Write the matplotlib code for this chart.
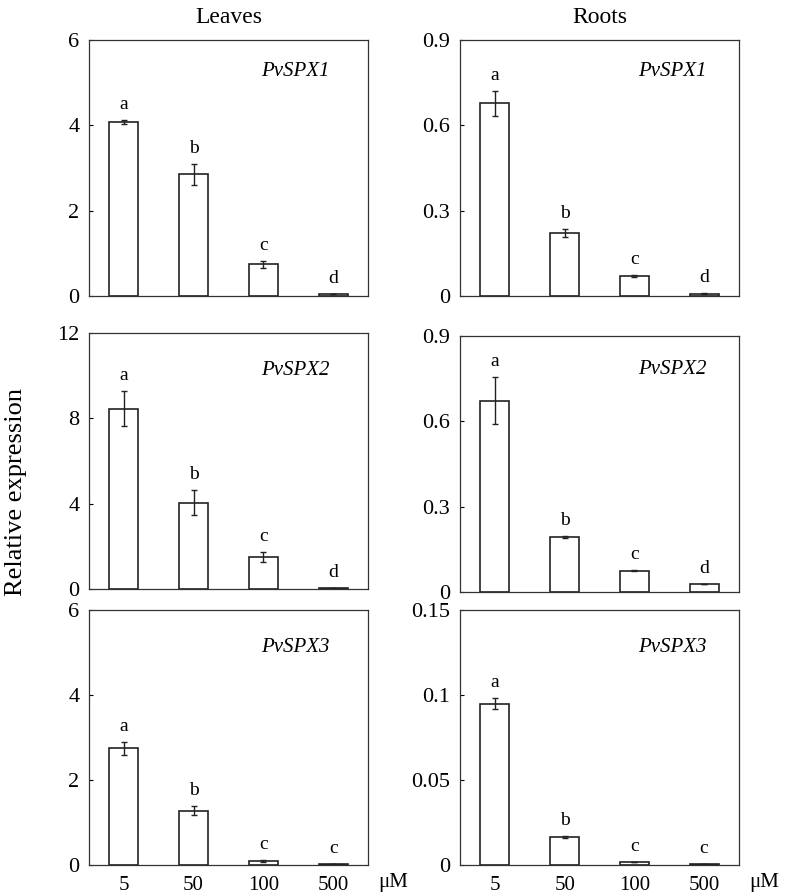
import matplotlib
matplotlib.use("Agg")
import matplotlib.pyplot as plt
import numpy as np

plt.rcParams["font.family"] = ["Liberation Serif", "DejaVu Serif"]

doses = ["5", "50", "100", "500"]
genes = ["PvSPX1", "PvSPX2", "PvSPX3"]
tissues = ["Leaves", "Roots"]

# mean values, rows = genes, for each tissue
leaves_mean = [
    [4.08, 2.85, 0.74, 0.05],
    [8.46, 4.05, 1.50, 0.06],
    [2.75, 1.28, 0.09, 0.02],
]
leaves_err = [
    [0.05, 0.24, 0.08, 0.0],
    [0.80, 0.60, 0.23, 0.0],
    [0.15, 0.10, 0.02, 0.0],
]
roots_mean = [
    [0.677, 0.220, 0.070, 0.008],
    [0.673, 0.194, 0.075, 0.028],
    [0.0948, 0.0166, 0.0018, 0.0004],
]
roots_err = [
    [0.043, 0.014, 0.003, 0.001],
    [0.083, 0.004, 0.002, 0.0],
    [0.0032, 0.0005, 0.0, 0.0],
]
letters = [
    [["a", "b", "c", "d"], ["a", "b", "c", "d"]],
    [["a", "b", "c", "d"], ["a", "b", "c", "d"]],
    [["a", "b", "c", "c"], ["a", "b", "c", "c"]],
]
leaves_ticks = [[0, 2, 4, 6], [0, 4, 8, 12], [0, 2, 4, 6]]
leaves_ticklabels = [["0", "2", "4", "6"], ["0", "4", "8", "12"], ["0", "2", "4", "6"]]
roots_ticks = [[0, 0.3, 0.6, 0.9], [0, 0.3, 0.6, 0.9], [0, 0.05, 0.1, 0.15]]
roots_ticklabels = [["0", "0.3", "0.6", "0.9"], ["0", "0.3", "0.6", "0.9"],
                    ["0", "0.05", "0.1", "0.15"]]

fig = plt.figure(figsize=(7.86, 8.94), dpi=100)

W, H = 786, 894
col_x = [89, 460]
# (top, bottom) in pixels for each row and column
rows_px = [
    [(40, 296), (40, 296)],
    [(333, 589), (336, 592)],
    [(610, 865), (610, 865)],
]
gene_x = [0.862, 0.885]
gene_y = [[0.875, 0.876], [0.854, 0.87], [0.854, 0.854]]

x = np.arange(len(doses))
for r in range(3):
    for c in range(2):
        top, bot = rows_px[r][c]
        ax = fig.add_axes([col_x[c] / W, 1 - bot / H, 279 / W, (bot - top) / H])
        if c == 0:
            means, errs = leaves_mean[r], leaves_err[r]
            ticks, tlabels = leaves_ticks[r], leaves_ticklabels[r]
        else:
            means, errs = roots_mean[r], roots_err[r]
            ticks, tlabels = roots_ticks[r], roots_ticklabels[r]
        ax.bar(x, means, width=0.415, color="white", edgecolor="#222222", linewidth=1.2)
        ax.errorbar(x, means, yerr=errs, fmt="none", ecolor="#222222",
                    elinewidth=1.0, capsize=2.3, capthick=1.0)
        for xi, m, e, lab in zip(x, means, errs, letters[r][c]):
            ax.annotate(lab, (xi, m + e), xytext=(0, 8), textcoords="offset points",
                        ha="center", va="baseline", fontsize=14)
        ax.set_xlim(-0.5, 3.5)
        ax.set_ylim(ticks[0], ticks[-1])
        ax.set_yticks(ticks)
        ax.set_yticklabels(tlabels)
        ax.tick_params(axis="y", direction="in", length=3, labelsize=16, pad=7)
        ax.tick_params(axis="x", length=0)
        if r == 2:
            ax.set_xticks(x)
            ax.set_xticklabels(doses, fontsize=15)
            ax.tick_params(axis="x", pad=8)
            ax.text(1.035, -0.067, "μM", transform=ax.transAxes, ha="left",
                    va="center", fontsize=15)
        else:
            ax.set_xticks([])
        for sp in ax.spines.values():
            sp.set_linewidth(0.9)
            sp.set_color("#333333")
        ax.text(gene_x[c], gene_y[r][c], genes[r], transform=ax.transAxes,
                ha="right", va="center", fontsize=15, style="italic")
        if r == 0:
            ax.set_title(tissues[c], fontsize=17, pad=12)

fig.text(16 / W, 1 - 492 / H, "Relative expression", rotation=90,
         ha="center", va="center", fontsize=19)

fig.savefig("out.png", dpi=100)
